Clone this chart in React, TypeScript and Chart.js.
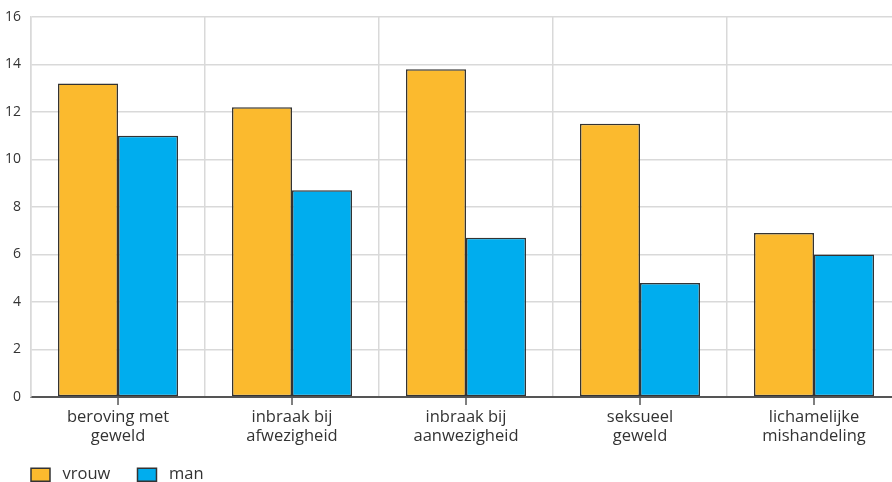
import React, { useEffect, useRef } from "react";
import { Chart, registerables } from "chart.js";

Chart.register(...registerables);

const categories: string[][] = [
  ["beroving met", "geweld"],
  ["inbraak bij", "afwezigheid"],
  ["inbraak bij", "aanwezigheid"],
  ["seksueel", "geweld"],
  ["lichamelijke", "mishandeling"],
];
const vrouwValues = [13.2, 12.2, 13.8, 11.5, 6.9];
const manValues = [11.0, 8.7, 6.7, 4.8, 6.0];
const yTicks = [0, 2, 4, 6, 8, 10, 12, 14, 16];

const FONT = "'Open Sans', 'Noto Sans', sans-serif";
const TEXT = "#333333";

const centerTicks = {
  id: "centerTicks",
  afterDatasetsDraw(chart: any) {
    const x = chart.scales.x;
    const ctx = chart.ctx;
    ctx.save();
    ctx.strokeStyle = "#555555";
    ctx.lineWidth = 1.5;
    for (let i = 0; i < categories.length; i++) {
      const px = x.getPixelForValue(i);
      ctx.beginPath();
      ctx.moveTo(px, chart.chartArea.bottom);
      ctx.lineTo(px, chart.chartArea.bottom + 8);
      ctx.stroke();
    }
    ctx.restore();
  },
  beforeDraw(chart: any) {
    if (chart.legend) chart.legend.left = 21;
  },
};

export default function App() {
  const ref = useRef<HTMLCanvasElement | null>(null);
  useEffect(() => {
    if (!ref.current) return;
    const defaultGen = (Chart as any).defaults.plugins.legend.labels.generateLabels;
    const chart = new Chart(ref.current, {
      type: "bar",
      data: {
        labels: categories,
        datasets: [
          {
            label: "vrouw",
            data: vrouwValues,
            backgroundColor: "#FBBA2E",
            borderColor: "#333333",
            borderWidth: 1.5,
            borderSkipped: false,
          },
          {
            label: "man",
            data: manValues,
            backgroundColor: "#00ADEE",
            borderColor: "#333333",
            borderWidth: 1.5,
            borderSkipped: false,
          },
        ],
      },
      options: {
        responsive: false,
        animation: false,
        maintainAspectRatio: false,
        layout: { padding: { left: -5, top: 1, right: 0, bottom: -11 } },
        datasets: { bar: { categoryPercentage: 0.69, barPercentage: 1 } },
        scales: {
          x: {
            grid: {
              offset: true,
              color: "#d9d9d9",
              lineWidth: 1.5,
              drawTicks: false,
            },
            border: { color: "#555555", width: 2 },
            ticks: {
              color: TEXT,
              font: { family: FONT, size: 16.5, lineHeight: 1.2 },
              padding: 10,
              maxRotation: 0,
            },
          },
          y: {
            min: 0,
            max: 16,
            afterBuildTicks: (axis: any) => {
              axis.ticks = yTicks.map((v) => ({ value: v }));
            },
            grid: { color: "#d9d9d9", lineWidth: 1.5, drawTicks: false },
            border: { color: "#d9d9d9", width: 1.5 },
            ticks: {
              color: TEXT,
              font: { family: FONT, size: 14, lineHeight: 1 },
              padding: 10,
            },
          },
        },
        plugins: {
          legend: {
            position: "bottom",
            align: "start",
            labels: {
              boxWidth: 19,
              boxHeight: 13,
              color: TEXT,
              font: { family: FONT, size: 16.5 },
              padding: 10,
              generateLabels: (c: any) =>
                defaultGen(c).map((l: any) => ({ ...l, text: " " + l.text + "    " })),
            },
          },
          tooltip: { enabled: false },
        },
      },
      plugins: [centerTicks],
    });
    return () => chart.destroy();
  }, []);
  return (
    <div
      style={{
        position: "fixed",
        left: 0,
        top: 0,
        width: 892,
        height: 482,
        overflow: "hidden",
        background: "#fff",
      }}
    >
      <canvas ref={ref} width={901} height={482} style={{ display: "block" }} />
    </div>
  );
}
